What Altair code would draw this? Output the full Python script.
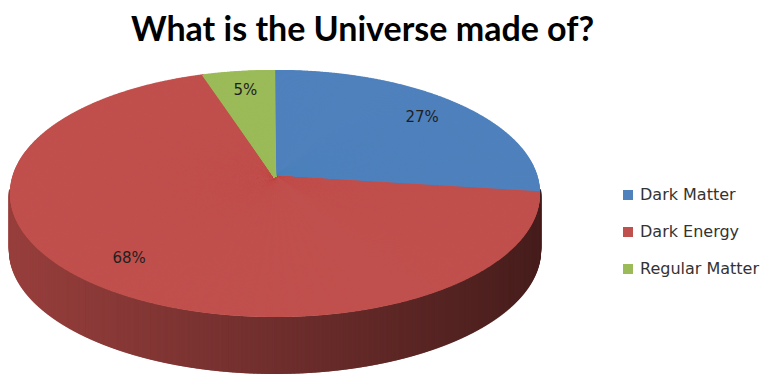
import json
import altair as alt
import pandas as pd

# ---- data -------------------------------------------------------------
categories = ["Dark Matter", "Dark Energy", "Regular Matter"]
values = [27, 68, 5]
colors = ["#4F81BD", "#C0504D", "#9BBB59"]

# ---- layout constants (3-D ellipse geometry) ---------------------------
W, H = 763, 378
TOP = 60
CX, CY = 275.0, 177.0       # pie vertex
A, B = 262.6, 121.3         # horizontal / vertical radius
K = 0.1336                  # perspective factor
DEPTH = 57                  # thickness of the pie
STEP = 0.25                 # angular sampling (degrees)
LABEL_R = 0.8

R_ = [int(c[1:3], 16) for c in colors]
G_ = [int(c[3:5], 16) for c in colors]
B_ = [int(c[5:7], 16) for c in colors]

df = pd.DataFrame({"category": categories, "value": values})

xs = alt.Scale(domain=[0, W], nice=False, zero=False)
ys = alt.Scale(domain=[TOP, H], reverse=True, nice=False, zero=False)

base = (
    alt.Chart(df)
    .transform_calculate(idx=f"indexof({json.dumps(categories)}, datum.category)")
    .transform_joinaggregate(total="sum(value)")
    .transform_window(cum="sum(value)", sort=[alt.SortField("idx")], frame=[None, 0])
    .transform_calculate(
        start="(datum.cum - datum.value) / datum.total * 360",
        end="datum.cum / datum.total * 360",
    )
)


def projected(chart, ang_field, r):
    return (
        chart.transform_calculate(rad=f"datum.{ang_field} * PI / 180")
        .transform_calculate(s="-cos(datum.rad)")
        .transform_calculate(d=f"1 - {K} * {r} * datum.s")
        .transform_calculate(
            px=f"{CX} + {A} * {r} * sin(datum.rad) / datum.d",
            py=f"{CY} + {B} * {r} * datum.s / datum.d",
        )
    )


edge = projected(
    base.transform_calculate(ang=f"sequence(datum.start, datum.end, {STEP})").transform_flatten(["ang"]),
    "ang",
    1,
)

# side wall (only the part facing the viewer), shaded left -> right
side = (
    edge.transform_filter("datum.s > 0.1")
    .transform_calculate(
        pyb=f"datum.py + {DEPTH}",
        u=f"(datum.px - {CX}) / {A}",
    )
    .transform_calculate(f="1 - (0.42 + 0.21 * datum.u)")
    .transform_calculate(
        sidecol=(
            f"'rgb(' + round({json.dumps(R_)}[datum.idx] * datum.f) + ','"
            f" + round({json.dumps(G_)}[datum.idx] * datum.f) + ','"
            f" + round({json.dumps(B_)}[datum.idx] * datum.f) + ')'"
        )
    )
    .mark_rule(strokeWidth=2.4)
    .encode(
        x=alt.X("px:Q", scale=xs, axis=None),
        y=alt.Y("py:Q", scale=ys, axis=None),
        y2="pyb:Q",
        color=alt.Color("sidecol:N", scale=None),
        order=alt.Order("s:Q"),
    )
)

# top face
top = (
    edge.transform_calculate(cx=str(CX), cy=str(CY))
    .mark_rule(strokeWidth=2.4)
    .encode(
        x=alt.X("cx:Q", scale=xs, axis=None),
        y=alt.Y("cy:Q", scale=ys, axis=None),
        x2="px:Q",
        y2="py:Q",
        color=alt.Color(
            "category:N",
            scale=alt.Scale(domain=categories, range=colors),
            legend=alt.Legend(
                title=None,
                orient="none",
                legendX=620,
                legendY=187 - TOP,
                symbolType="square",
                symbolSize=16,
                symbolStrokeWidth=6,
                labelFont="DejaVu Sans",
                labelFontSize=16,
                labelColor="#333333",
                labelOffset=4,
                rowPadding=9,
                padding=0,
            ),
        ),
    )
)

# percentage labels
labels = (
    projected(base.transform_calculate(mid="(datum.start + datum.end) / 2"), "mid", LABEL_R)
    .transform_calculate(txt="datum.value + '%'")
    .mark_text(font="DejaVu Sans", fontSize=15, color="#1f1f1f")
    .encode(
        x=alt.X("px:Q", scale=xs, axis=None),
        y=alt.Y("py:Q", scale=ys, axis=None),
        text="txt:N",
    )
)

chart = (
    alt.layer(side, top, labels)
    .resolve_scale(color="independent")
    .properties(
        width=W,
        height=H - TOP,
        padding={"left": 0, "top": TOP, "right": 0, "bottom": 0},
        autosize=alt.AutoSizeParams(type="none"),
        background="white",
        title=alt.Title(
            "What is the Universe made of?",
            font="Lato",
            fontSize=34,
            fontWeight="bold",
            color="black",
            anchor="middle",
            dx=-19,
            offset=12,
        ),
    )
    .configure_view(stroke=None)
)

chart.save("out.html", embed_options={"renderer": "svg", "actions": False})
